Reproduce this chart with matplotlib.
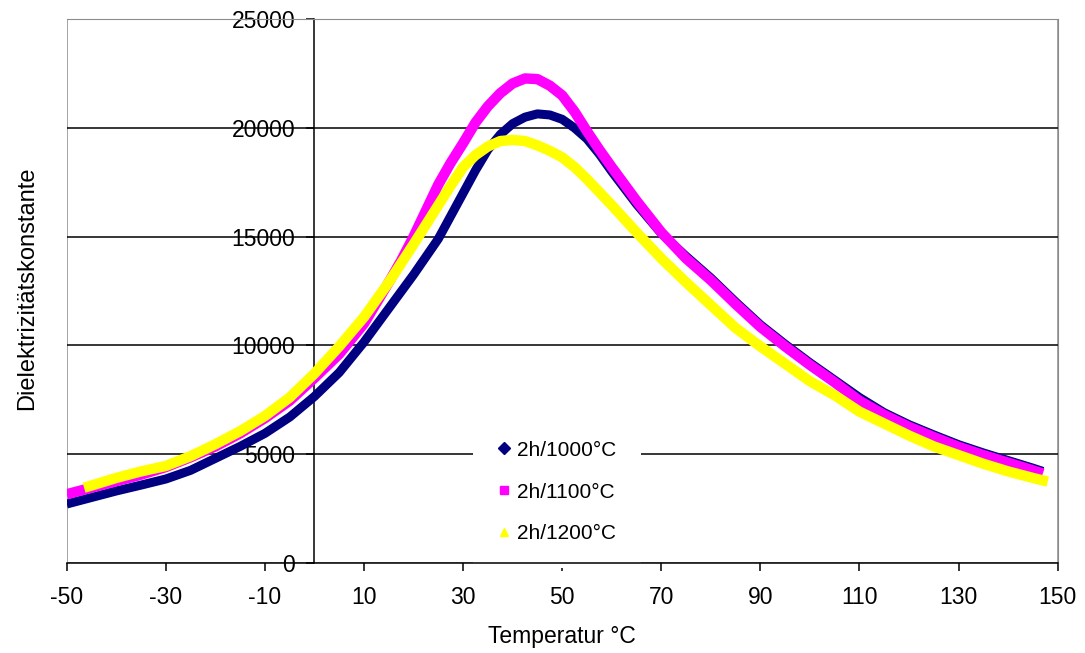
import matplotlib
matplotlib.use("Agg")
import matplotlib.pyplot as plt
from matplotlib.lines import Line2D
from matplotlib.patches import Rectangle

plt.rcParams['font.family'] = ['Liberation Sans', 'DejaVu Sans']
plt.rcParams['axes.unicode_minus'] = False

# 2h/1000°C
temp_1000 = [-50, -45, -40, -35, -30, -25, -20, -15, -10, -5, 0, 5, 10, 15, 20, 25, 27.5, 30,
             32.5, 35, 37.5, 40, 42.5, 45, 47.5, 50, 52.5, 55, 57.5, 60, 65, 70, 75, 80, 85,
             90, 95, 100, 105, 110, 115, 120, 125, 130, 135, 140, 145, 147]
eps_1000 = [2700, 3000, 3300, 3570, 3850, 4250, 4800, 5350, 5950, 6700, 7650, 8750, 10150, 11700,
            13250, 14900, 15950, 17000, 18050, 19000, 19700, 20200, 20500, 20650, 20600, 20400,
            20000, 19500, 18800, 18000, 16500, 15150, 14100, 13100, 12000, 10950, 10050, 9200,
            8400, 7600, 6900, 6350, 5880, 5430, 5050, 4700, 4350, 4200]

# 2h/1100°C
temp_1100 = [-50, -45, -40, -35, -30, -25, -20, -15, -10, -5, 0, 5, 10, 15, 17.5, 20, 22.5, 25,
             27.5, 30, 32.5, 35, 37.5, 40, 42.5, 45, 47.5, 50, 52.5, 55, 57.5, 60, 65, 70, 75,
             80, 85, 90, 95, 100, 105, 110, 115, 120, 125, 130, 135, 140, 145, 147]
eps_1100 = [3150, 3450, 3750, 4050, 4400, 4850, 5350, 5950, 6650, 7450, 8500, 9600, 11000, 12900,
            13900, 15000, 16200, 17400, 18400, 19300, 20250, 21000, 21600, 22050, 22280, 22250,
            21950, 21500, 20750, 19850, 19000, 18200, 16650, 15200, 14000, 13000, 11900, 10850,
            9950, 9100, 8300, 7450, 6800, 6250, 5780, 5330, 4950, 4600, 4250, 4100]

# 2h/1200°C
temp_1200 = [-46.5, -45, -40, -35, -30, -25, -20, -15, -10, -5, 0, 5, 10, 15, 20, 22.5, 25, 27.5,
             30, 32.5, 35, 37.5, 40, 42.5, 45, 47.5, 50, 52.5, 55, 57.5, 60, 65, 70, 75, 80, 85,
             90, 95, 100, 105, 110, 115, 120, 125, 130, 135, 140, 145, 148]
eps_1200 = [3450, 3550, 3900, 4200, 4450, 4900, 5450, 6050, 6750, 7600, 8700, 9950, 11300, 12900,
            14650, 15550, 16450, 17350, 18200, 18750, 19150, 19400, 19450, 19400, 19200, 18950,
            18650, 18200, 17650, 17050, 16450, 15200, 14000, 12900, 11850, 10800, 9950, 9150,
            8350, 7700, 6950, 6400, 5850, 5350, 4950, 4550, 4200, 3900, 3730]

labels = ["2h/1000°C", "2h/1100°C", "2h/1200°C"]
colors = ["#000080", "#ff00ff", "#ffff00"]
markers = ["D", "s", "^"]

x_ticks = [-50, -30, -10, 10, 30, 50, 70, 90, 110, 130, 150]
y_ticks = [0, 5000, 10000, 15000, 20000, 25000]

fig = plt.figure(figsize=(10.85, 6.53), dpi=100)
ax = fig.add_axes([0.0615, 0.1383, 0.9133, 0.8321])

for y in y_ticks[1:-1]:
    ax.axhline(y, color='black', linewidth=1.1, zorder=1)

ax.plot(temp_1000, eps_1000, color=colors[0], linewidth=6.5, solid_capstyle='butt',
        solid_joinstyle='round', zorder=3)
ax.plot(temp_1100, eps_1100, color=colors[1], linewidth=7.5, solid_capstyle='butt',
        solid_joinstyle='round', zorder=4)
ax.plot(temp_1200, eps_1200, color=colors[2], linewidth=7.5, solid_capstyle='butt',
        solid_joinstyle='round', zorder=5)

ax.set_xlim(-50, 150)
ax.set_ylim(0, 25000)
ax.set_xticks(x_ticks)
ax.set_yticks(y_ticks)

ax.spines['left'].set_position(('data', 0))
ax.spines['left'].set_color('black')
ax.spines['left'].set_linewidth(1.1)
ax.spines['bottom'].set_color('black')
ax.spines['bottom'].set_linewidth(1.1)
ax.spines['top'].set_color('#8c8c8c')
ax.spines['right'].set_color('#8c8c8c')
ax.add_patch(Rectangle((0, 0), 1, 1, transform=ax.transAxes, fill=False,
                       edgecolor='#8c8c8c', linewidth=1.1, zorder=0.5))

ax.tick_params(axis='x', direction='out', length=6, width=1.1, pad=11, labelsize=16.5)
ax.tick_params(axis='y', direction='out', length=6, width=1.1, pad=8, labelsize=16.5)

ax.set_xlabel("Temperatur °C", fontsize=16.5, labelpad=11)
ax.set_ylabel("Dielektrizitätskonstante", fontsize=17)
ax.yaxis.set_label_coords(-0.029, 0.505)

handles = [Line2D([], [], marker=m, color=c, linestyle='None', markersize=6)
           for m, c in zip(markers, colors)]
leg = ax.legend(handles, labels, loc='center', bbox_to_anchor=(0.495, 0.13),
                fontsize=15, frameon=True, facecolor='white', edgecolor='none',
                framealpha=1, handlelength=0.6, handletextpad=0.3, labelspacing=1.1,
                borderpad=1.2, fancybox=False)
# below the spines and ticks, above the gridlines
leg.set_zorder(2)

fig.savefig("out.png", dpi=100)
